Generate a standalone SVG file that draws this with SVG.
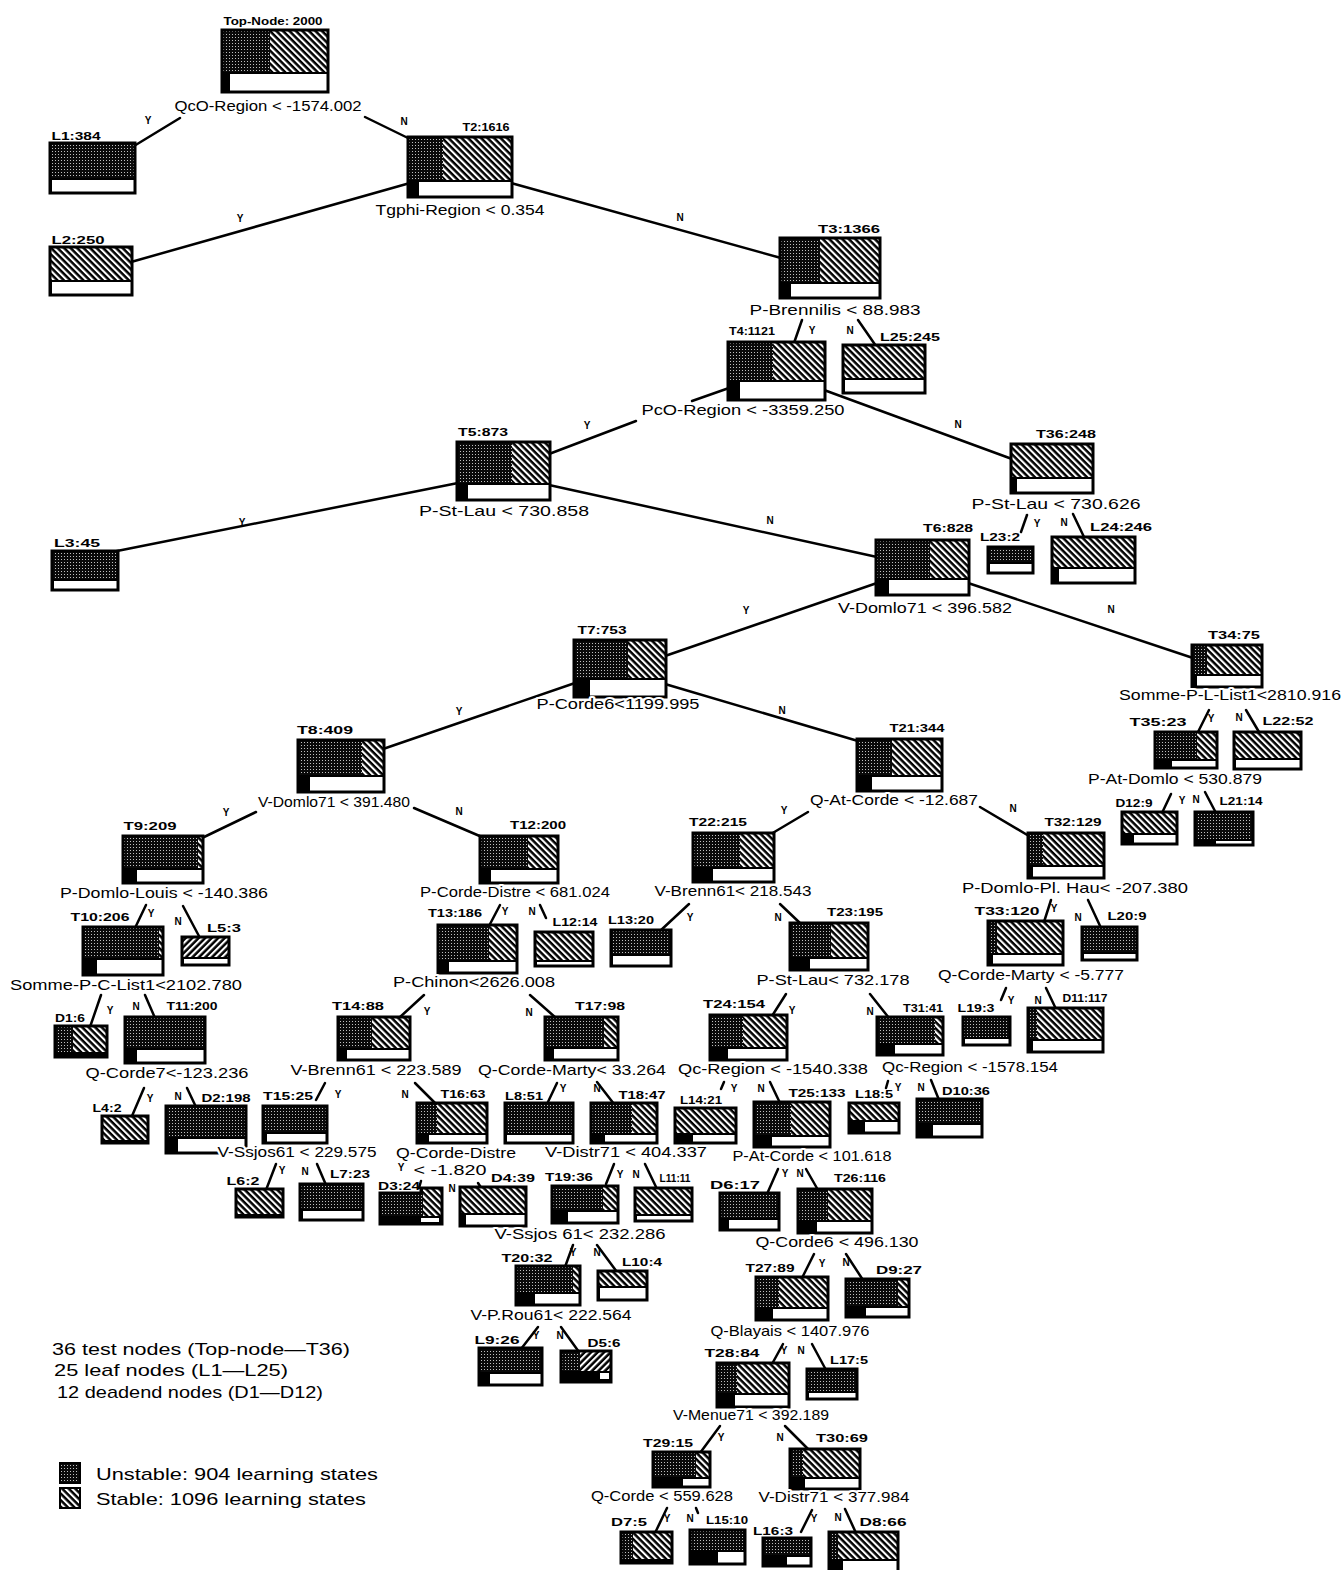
<svg xmlns="http://www.w3.org/2000/svg" width="1344" height="1570" viewBox="0 0 1344 1570">
<defs>
<pattern id="ps" width="3" height="3" patternUnits="userSpaceOnUse"><rect width="3" height="3" fill="#0a0a0a"/><rect x="1" y="1" width="1" height="1" fill="#c0c0c0"/></pattern>
<pattern id="ph" width="4.6" height="4.6" patternUnits="userSpaceOnUse" patternTransform="rotate(-45)"><rect width="4.6" height="4.6" fill="#000"/><rect width="2.1" height="4.6" fill="#fff"/></pattern>
<pattern id="ph2" width="4.6" height="4.6" patternUnits="userSpaceOnUse" patternTransform="rotate(45)"><rect width="4.6" height="4.6" fill="#000"/><rect width="2.1" height="4.6" fill="#fff"/></pattern>
</defs>
<style>
.b{fill:#000}
.s{fill:url(#ps)}
.h{fill:url(#ph)}
.h2{fill:url(#ph2)}
.w{fill:#fff}
.f{fill:none;stroke:#000;stroke-width:3}
.cn line{stroke:#000;stroke-width:2.5;stroke-linecap:round}
text{font-family:"Liberation Sans",Arial,sans-serif;fill:#000}
.c{font-size:15px;text-anchor:middle;paint-order:stroke;stroke:#fff;stroke-width:4px;stroke-linejoin:round}
.l{font-size:11.5px;font-weight:bold;text-anchor:middle}
.yn{font-size:10px;font-weight:bold;text-anchor:middle}
.lg{font-size:17px}
</style>
<rect width="1344" height="1570" fill="#fff"/>
<g id="connectors" class="cn">
<line x1="134" y1="146" x2="180" y2="118"/>
<line x1="365" y1="117" x2="410" y2="139"/>
<line x1="410" y1="183" x2="131" y2="262"/>
<line x1="511" y1="183" x2="781" y2="258"/>
<line x1="802" y1="320" x2="794" y2="343"/>
<line x1="858" y1="320" x2="876" y2="346"/>
<line x1="729" y1="388" x2="692" y2="401"/>
<line x1="636" y1="421" x2="549" y2="454"/>
<line x1="824" y1="390" x2="1012" y2="459"/>
<line x1="1027" y1="515" x2="1021" y2="532"/>
<line x1="1073" y1="514" x2="1084" y2="537"/>
<line x1="458" y1="483" x2="117" y2="551"/>
<line x1="549" y1="485" x2="877" y2="557"/>
<line x1="877" y1="583" x2="665" y2="656"/>
<line x1="968" y1="583" x2="1193" y2="658"/>
<line x1="1209" y1="710" x2="1198" y2="732"/>
<line x1="1246" y1="710" x2="1259" y2="732"/>
<line x1="1171" y1="794" x2="1162" y2="813"/>
<line x1="1205" y1="792" x2="1216" y2="813"/>
<line x1="575" y1="683" x2="383" y2="749"/>
<line x1="665" y1="684" x2="858" y2="741"/>
<line x1="256" y1="812" x2="202" y2="838"/>
<line x1="414" y1="808" x2="482" y2="837"/>
<line x1="146" y1="905" x2="135" y2="928"/>
<line x1="183" y1="906" x2="200" y2="938"/>
<line x1="101" y1="995" x2="90" y2="1027"/>
<line x1="145" y1="995" x2="155" y2="1018"/>
<line x1="144" y1="1088" x2="132" y2="1116"/>
<line x1="187" y1="1088" x2="196" y2="1107"/>
<line x1="325" y1="1083" x2="316" y2="1100"/>
<line x1="415" y1="1083" x2="436" y2="1104"/>
<line x1="276" y1="1164" x2="266" y2="1190"/>
<line x1="317" y1="1164" x2="326" y2="1185"/>
<line x1="500" y1="905" x2="489" y2="926"/>
<line x1="540" y1="905" x2="546" y2="918"/>
<line x1="424" y1="995" x2="399" y2="1018"/>
<line x1="530" y1="995" x2="556" y2="1018"/>
<line x1="421" y1="1181" x2="419" y2="1188"/>
<line x1="478" y1="1183" x2="484" y2="1192"/>
<line x1="557" y1="1083" x2="547" y2="1104"/>
<line x1="597" y1="1082" x2="614" y2="1104"/>
<line x1="614" y1="1164" x2="606" y2="1184"/>
<line x1="645" y1="1164" x2="657" y2="1189"/>
<line x1="573" y1="1245" x2="565" y2="1267"/>
<line x1="597" y1="1245" x2="617" y2="1272"/>
<line x1="538" y1="1327" x2="521" y2="1349"/>
<line x1="561" y1="1327" x2="579" y2="1352"/>
<line x1="808" y1="812" x2="771" y2="834"/>
<line x1="980" y1="807" x2="1029" y2="836"/>
<line x1="689" y1="904" x2="660" y2="931"/>
<line x1="780" y1="904" x2="801" y2="924"/>
<line x1="786" y1="994" x2="772" y2="1016"/>
<line x1="870" y1="994" x2="889" y2="1018"/>
<line x1="724" y1="1082" x2="721" y2="1089"/>
<line x1="770" y1="1082" x2="780" y2="1103"/>
<line x1="778" y1="1169" x2="767" y2="1194"/>
<line x1="806" y1="1169" x2="818" y2="1190"/>
<line x1="814" y1="1254" x2="802" y2="1278"/>
<line x1="846" y1="1254" x2="863" y2="1280"/>
<line x1="783" y1="1344" x2="772" y2="1364"/>
<line x1="812" y1="1344" x2="826" y2="1370"/>
<line x1="720" y1="1426" x2="700" y2="1453"/>
<line x1="785" y1="1426" x2="809" y2="1450"/>
<line x1="667" y1="1508" x2="655" y2="1533"/>
<line x1="696" y1="1508" x2="698" y2="1513"/>
<line x1="812" y1="1510" x2="801" y2="1532"/>
<line x1="845" y1="1509" x2="856" y2="1533"/>
<line x1="888" y1="1081" x2="886" y2="1088"/>
<line x1="931" y1="1080" x2="939" y2="1100"/>
<line x1="1051" y1="900" x2="1044" y2="922"/>
<line x1="1088" y1="900" x2="1101" y2="928"/>
<line x1="1006" y1="988" x2="1001" y2="1000"/>
<line x1="1046" y1="988" x2="1056" y2="1009"/>
<text class="yn" x="148" y="124">Y</text><text class="yn" x="404" y="125">N</text>
<text class="yn" x="240" y="222">Y</text><text class="yn" x="680" y="221">N</text>
<text class="yn" x="812" y="334">Y</text><text class="yn" x="850" y="334">N</text>
<text class="yn" x="587" y="429">Y</text><text class="yn" x="958" y="428">N</text>
<text class="yn" x="1037" y="527">Y</text><text class="yn" x="1064" y="526">N</text>
<text class="yn" x="242" y="526">Y</text><text class="yn" x="770" y="524">N</text>
<text class="yn" x="746" y="614">Y</text><text class="yn" x="1111" y="613">N</text>
<text class="yn" x="1211" y="722">Y</text><text class="yn" x="1239" y="721">N</text>
<text class="yn" x="1182" y="804">Y</text><text class="yn" x="1196" y="803">N</text>
<text class="yn" x="459" y="715">Y</text><text class="yn" x="782" y="714">N</text>
<text class="yn" x="226" y="816">Y</text><text class="yn" x="459" y="815">N</text>
<text class="yn" x="151" y="917">Y</text><text class="yn" x="178" y="925">N</text>
<text class="yn" x="110" y="1014">Y</text><text class="yn" x="136" y="1010">N</text>
<text class="yn" x="150" y="1102">Y</text><text class="yn" x="178" y="1100">N</text>
<text class="yn" x="338" y="1098">Y</text><text class="yn" x="405" y="1098">N</text>
<text class="yn" x="282" y="1174">Y</text><text class="yn" x="305" y="1175">N</text>
<text class="yn" x="505" y="915">Y</text><text class="yn" x="532" y="915">N</text>
<text class="yn" x="427" y="1015">Y</text><text class="yn" x="529" y="1016">N</text>
<text class="yn" x="401" y="1171">Y</text><text class="yn" x="452" y="1192">N</text>
<text class="yn" x="563" y="1092">Y</text><text class="yn" x="597" y="1092">N</text>
<text class="yn" x="620" y="1178">Y</text><text class="yn" x="636" y="1178">N</text>
<text class="yn" x="573" y="1256">Y</text><text class="yn" x="597" y="1256">N</text>
<text class="yn" x="536" y="1339">Y</text><text class="yn" x="560" y="1339">N</text>
<text class="yn" x="784" y="814">Y</text><text class="yn" x="1013" y="812">N</text>
<text class="yn" x="690" y="921">Y</text><text class="yn" x="778" y="921">N</text>
<text class="yn" x="792" y="1014">Y</text><text class="yn" x="870" y="1015">N</text>
<text class="yn" x="734" y="1092">Y</text><text class="yn" x="761" y="1092">N</text>
<text class="yn" x="785" y="1177">Y</text><text class="yn" x="800" y="1177">N</text>
<text class="yn" x="822" y="1267">Y</text><text class="yn" x="846" y="1266">N</text>
<text class="yn" x="784" y="1354">Y</text><text class="yn" x="801" y="1354">N</text>
<text class="yn" x="721" y="1441">Y</text><text class="yn" x="780" y="1441">N</text>
<text class="yn" x="667" y="1522">Y</text><text class="yn" x="690" y="1522">N</text>
<text class="yn" x="814" y="1522">Y</text><text class="yn" x="838" y="1521">N</text>
<text class="yn" x="898" y="1091">Y</text><text class="yn" x="921" y="1091">N</text>
<text class="yn" x="1054" y="912">Y</text><text class="yn" x="1078" y="921">N</text>
<text class="yn" x="1011" y="1004">Y</text><text class="yn" x="1038" y="1004">N</text>
</g>
<g id="TopNode"><rect class="b" x="222" y="30" width="106" height="62"/><rect class="s" x="222" y="30" width="48" height="42"/><rect class="h" x="270" y="30" width="58" height="42"/><rect class="w" x="230" y="74" width="98" height="18"/><rect class="f" x="222" y="30" width="106" height="62"/><text class="l" style="font-size:11px" x="273" y="25" textLength="99" lengthAdjust="spacingAndGlyphs">Top-Node: 2000</text><text class="c" x="268" y="111" textLength="187" lengthAdjust="spacingAndGlyphs">QcO-Region &lt; -1574.002</text></g>
<g id="L1"><rect class="b" x="50" y="143" width="85" height="50"/><rect class="s" x="50" y="143" width="85" height="35"/><rect class="w" x="52" y="180" width="83" height="13"/><rect class="f" x="50" y="143" width="85" height="50"/><text class="l" x="76" y="140" textLength="49" lengthAdjust="spacingAndGlyphs">L1:384</text></g>
<g id="T2"><rect class="b" x="408" y="137" width="104" height="60"/><rect class="s" x="408" y="137" width="35" height="43"/><rect class="h" x="443" y="137" width="69" height="43"/><rect class="w" x="419" y="182" width="93" height="15"/><rect class="f" x="408" y="137" width="104" height="60"/><text class="l" x="486" y="131" textLength="47" lengthAdjust="spacingAndGlyphs">T2:1616</text><text class="c" x="460" y="215" textLength="169" lengthAdjust="spacingAndGlyphs">Tgphi-Region &lt; 0.354</text></g>
<g id="L2"><rect class="b" x="50" y="247" width="82" height="48"/><rect class="h" x="50" y="247" width="82" height="33"/><rect class="w" x="52" y="282" width="80" height="13"/><rect class="f" x="50" y="247" width="82" height="48"/><text class="l" x="78" y="244" textLength="53" lengthAdjust="spacingAndGlyphs">L2:250</text></g>
<g id="T3"><rect class="b" x="780" y="238" width="100" height="60"/><rect class="s" x="780" y="238" width="40" height="44"/><rect class="h" x="820" y="238" width="60" height="44"/><rect class="w" x="791" y="284" width="89" height="14"/><rect class="f" x="780" y="238" width="100" height="60"/><text class="l" x="849" y="233" textLength="62" lengthAdjust="spacingAndGlyphs">T3:1366</text><text class="c" x="835" y="315" textLength="171" lengthAdjust="spacingAndGlyphs">P-Brennilis &lt; 88.983</text></g>
<g id="T4"><rect class="b" x="728" y="342" width="97" height="58"/><rect class="s" x="728" y="342" width="45" height="38"/><rect class="h" x="773" y="342" width="52" height="38"/><rect class="w" x="740" y="382" width="85" height="18"/><rect class="f" x="728" y="342" width="97" height="58"/><text class="l" x="752" y="335" textLength="46" lengthAdjust="spacingAndGlyphs">T4:1121</text><text class="c" x="743" y="415" textLength="203" lengthAdjust="spacingAndGlyphs">PcO-Region &lt; -3359.250</text></g>
<g id="L25"><rect class="b" x="843" y="345" width="82" height="48"/><rect class="h" x="843" y="345" width="82" height="33"/><rect class="w" x="845" y="380" width="80" height="13"/><rect class="f" x="843" y="345" width="82" height="48"/><text class="l" x="910" y="341" textLength="60" lengthAdjust="spacingAndGlyphs">L25:245</text></g>
<g id="T36"><rect class="b" x="1011" y="444" width="82" height="49"/><rect class="h" x="1011" y="444" width="82" height="33"/><rect class="w" x="1017" y="479" width="76" height="14"/><rect class="f" x="1011" y="444" width="82" height="49"/><text class="l" x="1066" y="438" textLength="60" lengthAdjust="spacingAndGlyphs">T36:248</text><text class="c" x="1056" y="509" textLength="169" lengthAdjust="spacingAndGlyphs">P-St-Lau &lt; 730.626</text></g>
<g id="L23"><rect class="b" x="988" y="547" width="45" height="26"/><rect class="s" x="988" y="547" width="45" height="15"/><rect class="w" x="990" y="564" width="43" height="9"/><rect class="f" x="988" y="547" width="45" height="26"/><text class="l" x="1000" y="541" textLength="40" lengthAdjust="spacingAndGlyphs">L23:2</text></g>
<g id="L24"><rect class="b" x="1052" y="537" width="83" height="46"/><rect class="h" x="1052" y="537" width="83" height="30"/><rect class="w" x="1059" y="569" width="76" height="14"/><rect class="f" x="1052" y="537" width="83" height="46"/><text class="l" x="1121" y="531" textLength="62" lengthAdjust="spacingAndGlyphs">L24:246</text></g>
<g id="T5"><rect class="b" x="457" y="442" width="93" height="58"/><rect class="s" x="457" y="442" width="55" height="41"/><rect class="h" x="512" y="442" width="38" height="41"/><rect class="w" x="468" y="485" width="82" height="15"/><rect class="f" x="457" y="442" width="93" height="58"/><text class="l" x="483" y="436" textLength="50" lengthAdjust="spacingAndGlyphs">T5:873</text><text class="c" x="504" y="516" textLength="170" lengthAdjust="spacingAndGlyphs">P-St-Lau &lt; 730.858</text></g>
<g id="L3"><rect class="b" x="52" y="551" width="66" height="39"/><rect class="s" x="52" y="551" width="66" height="28"/><rect class="w" x="54" y="581" width="64" height="9"/><rect class="f" x="52" y="551" width="66" height="39"/><text class="l" x="77" y="547" textLength="46" lengthAdjust="spacingAndGlyphs">L3:45</text></g>
<g id="T6"><rect class="b" x="876" y="540" width="93" height="55"/><rect class="s" x="876" y="540" width="54" height="38"/><rect class="h" x="930" y="540" width="39" height="38"/><rect class="w" x="889" y="580" width="80" height="15"/><rect class="f" x="876" y="540" width="93" height="55"/><text class="l" x="948" y="532" textLength="50" lengthAdjust="spacingAndGlyphs">T6:828</text><text class="c" x="925" y="613" textLength="174" lengthAdjust="spacingAndGlyphs">V-Domlo71 &lt; 396.582</text></g>
<g id="T34"><rect class="b" x="1192" y="645" width="70" height="42"/><rect class="s" x="1192" y="645" width="15" height="29"/><rect class="h" x="1207" y="645" width="55" height="29"/><rect class="w" x="1197" y="676" width="65" height="11"/><rect class="f" x="1192" y="645" width="70" height="42"/><text class="l" x="1234" y="639" textLength="52" lengthAdjust="spacingAndGlyphs">T34:75</text><text class="c" x="1230" y="700" textLength="222" lengthAdjust="spacingAndGlyphs">Somme-P-L-List1&lt;2810.916</text></g>
<g id="T35"><rect class="b" x="1155" y="732" width="62" height="36"/><rect class="s" x="1155" y="732" width="42" height="27"/><rect class="h" x="1197" y="732" width="20" height="27"/><rect class="w" x="1172" y="761" width="45" height="7"/><rect class="f" x="1155" y="732" width="62" height="36"/><text class="l" x="1158" y="726" textLength="57" lengthAdjust="spacingAndGlyphs">T35:23</text><text class="c" x="1175" y="784" textLength="174" lengthAdjust="spacingAndGlyphs">P-At-Domlo &lt; 530.879</text></g>
<g id="L22"><rect class="b" x="1234" y="732" width="67" height="37"/><rect class="h" x="1234" y="732" width="67" height="26"/><rect class="w" x="1236" y="760" width="65" height="9"/><rect class="f" x="1234" y="732" width="67" height="37"/><text class="l" x="1288" y="725" textLength="51" lengthAdjust="spacingAndGlyphs">L22:52</text></g>
<g id="D12"><rect class="b" x="1122" y="812" width="55" height="32"/><rect class="h" x="1122" y="812" width="55" height="21"/><rect class="w" x="1134" y="835" width="43" height="9"/><rect class="f" x="1122" y="812" width="55" height="32"/><text class="l" x="1134" y="807" textLength="37" lengthAdjust="spacingAndGlyphs">D12:9</text></g>
<g id="L21"><rect class="b" x="1195" y="812" width="58" height="33"/><rect class="s" x="1195" y="812" width="58" height="27"/><rect class="w" x="1216" y="841" width="37" height="4"/><rect class="f" x="1195" y="812" width="58" height="33"/><text class="l" x="1241" y="805" textLength="43" lengthAdjust="spacingAndGlyphs">L21:14</text></g>
<g id="T7"><rect class="b" x="574" y="640" width="92" height="57"/><rect class="s" x="574" y="640" width="54" height="38"/><rect class="h" x="628" y="640" width="38" height="38"/><rect class="w" x="590" y="680" width="76" height="17"/><rect class="f" x="574" y="640" width="92" height="57"/><text class="l" x="602" y="634" textLength="49" lengthAdjust="spacingAndGlyphs">T7:753</text><text class="c" x="618" y="709" textLength="163" lengthAdjust="spacingAndGlyphs">P-Corde6&lt;1199.995</text></g>
<g id="T8"><rect class="b" x="298" y="740" width="86" height="52"/><rect class="s" x="298" y="740" width="64" height="35"/><rect class="h" x="362" y="740" width="22" height="35"/><rect class="w" x="310" y="777" width="74" height="15"/><rect class="f" x="298" y="740" width="86" height="52"/><text class="l" x="325" y="734" textLength="56" lengthAdjust="spacingAndGlyphs">T8:409</text><text class="c" x="334" y="807" textLength="152" lengthAdjust="spacingAndGlyphs">V-Domlo71 &lt; 391.480</text></g>
<g id="T9"><rect class="b" x="123" y="836" width="80" height="47"/><rect class="s" x="123" y="836" width="75" height="32"/><rect class="h" x="198" y="836" width="5" height="32"/><rect class="w" x="137" y="870" width="66" height="13"/><rect class="f" x="123" y="836" width="80" height="47"/><text class="l" x="150" y="830" textLength="53" lengthAdjust="spacingAndGlyphs">T9:209</text><text class="c" x="164" y="898" textLength="208" lengthAdjust="spacingAndGlyphs">P-Domlo-Louis &lt; -140.386</text></g>
<g id="T10"><rect class="b" x="83" y="927" width="80" height="48"/><rect class="s" x="83" y="927" width="76" height="31"/><rect class="h" x="159" y="927" width="4" height="31"/><rect class="w" x="97" y="960" width="66" height="15"/><rect class="f" x="83" y="927" width="80" height="48"/><text class="l" x="100" y="921" textLength="59" lengthAdjust="spacingAndGlyphs">T10:206</text><text class="c" x="126" y="990" textLength="232" lengthAdjust="spacingAndGlyphs">Somme-P-C-List1&lt;2102.780</text></g>
<g id="L5"><rect class="b" x="182" y="937" width="47" height="28"/><rect class="h2" x="182" y="937" width="47" height="20"/><rect class="w" x="184" y="959" width="45" height="6"/><rect class="f" x="182" y="937" width="47" height="28"/><text class="l" x="224" y="932" textLength="34" lengthAdjust="spacingAndGlyphs">L5:3</text></g>
<g id="D1"><rect class="b" x="55" y="1026" width="52" height="31"/><rect class="s" x="55" y="1026" width="18" height="26"/><rect class="h" x="73" y="1026" width="34" height="26"/><rect class="f" x="55" y="1026" width="52" height="31"/><text class="l" x="70" y="1022" textLength="30" lengthAdjust="spacingAndGlyphs">D1:6</text></g>
<g id="T11"><rect class="b" x="125" y="1017" width="80" height="46"/><rect class="s" x="125" y="1017" width="80" height="31"/><rect class="w" x="137" y="1050" width="68" height="13"/><rect class="f" x="125" y="1017" width="80" height="46"/><text class="l" x="192" y="1010" textLength="51" lengthAdjust="spacingAndGlyphs">T11:200</text><text class="c" x="167" y="1078" textLength="163" lengthAdjust="spacingAndGlyphs">Q-Corde7&lt;-123.236</text></g>
<g id="L4"><rect class="b" x="102" y="1116" width="46" height="27"/><rect class="h" x="102" y="1116" width="46" height="24"/><rect class="f" x="102" y="1116" width="46" height="27"/><text class="l" x="107" y="1112" textLength="29" lengthAdjust="spacingAndGlyphs">L4:2</text></g>
<g id="D2"><rect class="b" x="166" y="1106" width="80" height="47"/><rect class="s" x="166" y="1106" width="80" height="31"/><rect class="w" x="178" y="1139" width="68" height="14"/><rect class="f" x="166" y="1106" width="80" height="47"/><text class="l" x="226" y="1102" textLength="49" lengthAdjust="spacingAndGlyphs">D2:198</text></g>
<g id="T15"><rect class="b" x="263" y="1106" width="64" height="37"/><rect class="s" x="263" y="1106" width="64" height="26"/><rect class="w" x="267" y="1134" width="60" height="9"/><rect class="f" x="263" y="1106" width="64" height="37"/><text class="l" x="288" y="1100" textLength="50" lengthAdjust="spacingAndGlyphs">T15:25</text><text class="c" x="297" y="1157" textLength="159" lengthAdjust="spacingAndGlyphs">V-Ssjos61 &lt; 229.575</text></g>
<g id="L6"><rect class="b" x="236" y="1189" width="47" height="28"/><rect class="h" x="236" y="1189" width="47" height="25"/><rect class="f" x="236" y="1189" width="47" height="28"/><text class="l" x="243" y="1185" textLength="33" lengthAdjust="spacingAndGlyphs">L6:2</text></g>
<g id="L7"><rect class="b" x="300" y="1184" width="63" height="36"/><rect class="s" x="300" y="1184" width="63" height="25"/><rect class="w" x="303" y="1211" width="60" height="9"/><rect class="f" x="300" y="1184" width="63" height="36"/><text class="l" x="350" y="1178" textLength="40" lengthAdjust="spacingAndGlyphs">L7:23</text></g>
<g id="T12"><rect class="b" x="480" y="836" width="78" height="47"/><rect class="s" x="480" y="836" width="48" height="32"/><rect class="h" x="528" y="836" width="30" height="32"/><rect class="w" x="491" y="870" width="67" height="13"/><rect class="f" x="480" y="836" width="78" height="47"/><text class="l" x="538" y="829" textLength="56" lengthAdjust="spacingAndGlyphs">T12:200</text><text class="c" x="515" y="897" textLength="190" lengthAdjust="spacingAndGlyphs">P-Corde-Distre &lt; 681.024</text></g>
<g id="T13"><rect class="b" x="438" y="925" width="79" height="48"/><rect class="s" x="438" y="925" width="51" height="35"/><rect class="h" x="489" y="925" width="28" height="35"/><rect class="w" x="449" y="962" width="68" height="11"/><rect class="f" x="438" y="925" width="79" height="48"/><text class="l" x="455" y="917" textLength="54" lengthAdjust="spacingAndGlyphs">T13:186</text><text class="c" x="474" y="987" textLength="162" lengthAdjust="spacingAndGlyphs">P-Chinon&lt;2626.008</text></g>
<g id="L12"><rect class="b" x="535" y="932" width="58" height="34"/><rect class="h" x="535" y="932" width="58" height="28"/><rect class="w" x="537" y="962" width="56" height="4"/><rect class="f" x="535" y="932" width="58" height="34"/><text class="l" x="575" y="926" textLength="45" lengthAdjust="spacingAndGlyphs">L12:14</text></g>
<g id="T14"><rect class="b" x="338" y="1017" width="72" height="43"/><rect class="s" x="338" y="1017" width="34" height="31"/><rect class="h" x="372" y="1017" width="38" height="31"/><rect class="w" x="347" y="1050" width="63" height="10"/><rect class="f" x="338" y="1017" width="72" height="43"/><text class="l" x="358" y="1010" textLength="52" lengthAdjust="spacingAndGlyphs">T14:88</text><text class="c" x="376" y="1075" textLength="171" lengthAdjust="spacingAndGlyphs">V-Brenn61 &lt; 223.589</text></g>
<g id="T17"><rect class="b" x="545" y="1017" width="73" height="43"/><rect class="s" x="545" y="1017" width="59" height="30"/><rect class="h" x="604" y="1017" width="14" height="30"/><rect class="w" x="554" y="1049" width="64" height="11"/><rect class="f" x="545" y="1017" width="73" height="43"/><text class="l" x="600" y="1010" textLength="50" lengthAdjust="spacingAndGlyphs">T17:98</text><text class="c" x="572" y="1075" textLength="188" lengthAdjust="spacingAndGlyphs">Q-Corde-Marty&lt; 33.264</text></g>
<g id="T16"><rect class="b" x="417" y="1103" width="70" height="40"/><rect class="s" x="417" y="1103" width="20" height="30"/><rect class="h" x="437" y="1103" width="50" height="30"/><rect class="w" x="429" y="1135" width="58" height="8"/><rect class="f" x="417" y="1103" width="70" height="40"/><text class="l" x="463" y="1098" textLength="45" lengthAdjust="spacingAndGlyphs">T16:63</text><text class="c" x="456" y="1158" textLength="120" lengthAdjust="spacingAndGlyphs">Q-Corde-Distre</text><text class="c" x="450" y="1175" textLength="73" lengthAdjust="spacingAndGlyphs">&lt; -1.820</text></g>
<g id="D3"><path class="b" d="M380,1193H421V1188H442V1224H380Z"/><rect class="s" x="380" y="1193" width="43" height="23"/><rect class="h" x="423" y="1188" width="19" height="28"/><rect class="w" x="421" y="1218" width="18" height="4"/><path class="f" d="M380,1193H421V1188H442V1224H380Z"/><text class="l" x="399" y="1190" textLength="42" lengthAdjust="spacingAndGlyphs">D3:24</text></g>
<g id="D4"><rect class="b" x="460" y="1187" width="66" height="39"/><rect class="h" x="460" y="1187" width="66" height="26"/><rect class="w" x="466" y="1215" width="60" height="11"/><rect class="f" x="460" y="1187" width="66" height="39"/><text class="l" x="513" y="1182" textLength="44" lengthAdjust="spacingAndGlyphs">D4:39</text></g>
<g id="L8"><rect class="b" x="505" y="1103" width="68" height="40"/><rect class="s" x="505" y="1103" width="68" height="30"/><rect class="w" x="507" y="1135" width="66" height="8"/><rect class="f" x="505" y="1103" width="68" height="40"/><text class="l" x="524" y="1100" textLength="38" lengthAdjust="spacingAndGlyphs">L8:51</text></g>
<g id="T18"><rect class="b" x="591" y="1103" width="66" height="40"/><rect class="s" x="591" y="1103" width="41" height="30"/><rect class="h" x="632" y="1103" width="25" height="30"/><rect class="w" x="605" y="1135" width="52" height="8"/><rect class="f" x="591" y="1103" width="66" height="40"/><text class="l" x="642" y="1099" textLength="47" lengthAdjust="spacingAndGlyphs">T18:47</text><text class="c" x="626" y="1157" textLength="162" lengthAdjust="spacingAndGlyphs">V-Distr71 &lt; 404.337</text></g>
<g id="T19"><rect class="b" x="552" y="1186" width="66" height="37"/><rect class="s" x="552" y="1186" width="51" height="24"/><rect class="h" x="603" y="1186" width="15" height="24"/><rect class="w" x="568" y="1212" width="50" height="11"/><rect class="f" x="552" y="1186" width="66" height="37"/><text class="l" x="569" y="1181" textLength="48" lengthAdjust="spacingAndGlyphs">T19:36</text><text class="c" x="580" y="1239" textLength="171" lengthAdjust="spacingAndGlyphs">V-Ssjos 61&lt; 232.286</text></g>
<g id="L11"><rect class="b" x="635" y="1188" width="57" height="33"/><rect class="h" x="635" y="1188" width="57" height="26"/><rect class="w" x="637" y="1216" width="55" height="5"/><rect class="f" x="635" y="1188" width="57" height="33"/><text class="l" x="675" y="1182" textLength="31" lengthAdjust="spacingAndGlyphs">L11:11</text></g>
<g id="T20"><rect class="b" x="516" y="1266" width="64" height="39"/><rect class="s" x="516" y="1266" width="57" height="26"/><rect class="h" x="573" y="1266" width="7" height="26"/><rect class="w" x="535" y="1294" width="45" height="11"/><rect class="f" x="516" y="1266" width="64" height="39"/><text class="l" x="527" y="1262" textLength="51" lengthAdjust="spacingAndGlyphs">T20:32</text><text class="c" x="551" y="1320" textLength="161" lengthAdjust="spacingAndGlyphs">V-P.Rou61&lt; 222.564</text></g>
<g id="L10"><rect class="b" x="598" y="1271" width="49" height="29"/><rect class="h" x="598" y="1271" width="49" height="15"/><rect class="w" x="600" y="1288" width="47" height="12"/><rect class="f" x="598" y="1271" width="49" height="29"/><text class="l" x="642" y="1266" textLength="40" lengthAdjust="spacingAndGlyphs">L10:4</text></g>
<g id="L9"><rect class="b" x="479" y="1348" width="63" height="37"/><rect class="s" x="479" y="1348" width="63" height="24"/><rect class="w" x="490" y="1374" width="52" height="11"/><rect class="f" x="479" y="1348" width="63" height="37"/><text class="l" x="497" y="1344" textLength="45" lengthAdjust="spacingAndGlyphs">L9:26</text></g>
<g id="D5"><rect class="b" x="561" y="1351" width="50" height="31"/><rect class="s" x="561" y="1351" width="19" height="20"/><rect class="h2" x="580" y="1351" width="31" height="20"/><rect class="w" x="600" y="1373" width="9" height="6"/><rect class="f" x="561" y="1351" width="50" height="31"/><text class="l" x="604" y="1347" textLength="33" lengthAdjust="spacingAndGlyphs">D5:6</text></g>
<g id="T21"><rect class="b" x="857" y="739" width="85" height="52"/><rect class="s" x="857" y="739" width="35" height="36"/><rect class="h" x="892" y="739" width="50" height="36"/><rect class="w" x="872" y="777" width="70" height="14"/><rect class="f" x="857" y="739" width="85" height="52"/><text class="l" x="917" y="732" textLength="55" lengthAdjust="spacingAndGlyphs">T21:344</text><text class="c" x="894" y="805" textLength="168" lengthAdjust="spacingAndGlyphs">Q-At-Corde &lt; -12.687</text></g>
<g id="T22"><rect class="b" x="693" y="833" width="81" height="49"/><rect class="s" x="693" y="833" width="47" height="34"/><rect class="h" x="740" y="833" width="34" height="34"/><rect class="w" x="713" y="869" width="61" height="13"/><rect class="f" x="693" y="833" width="81" height="49"/><text class="l" x="718" y="826" textLength="58" lengthAdjust="spacingAndGlyphs">T22:215</text><text class="c" x="733" y="896" textLength="157" lengthAdjust="spacingAndGlyphs">V-Brenn61&lt; 218.543</text></g>
<g id="L13"><rect class="b" x="611" y="930" width="60" height="36"/><rect class="s" x="611" y="930" width="60" height="24"/><rect class="w" x="613" y="956" width="58" height="10"/><rect class="f" x="611" y="930" width="60" height="36"/><text class="l" x="631" y="924" textLength="46" lengthAdjust="spacingAndGlyphs">L13:20</text></g>
<g id="T23"><rect class="b" x="790" y="923" width="78" height="47"/><rect class="s" x="790" y="923" width="41" height="34"/><rect class="h" x="831" y="923" width="37" height="34"/><rect class="w" x="810" y="959" width="58" height="11"/><rect class="f" x="790" y="923" width="78" height="47"/><text class="l" x="855" y="916" textLength="56" lengthAdjust="spacingAndGlyphs">T23:195</text><text class="c" x="833" y="985" textLength="153" lengthAdjust="spacingAndGlyphs">P-St-Lau&lt; 732.178</text></g>
<g id="T24"><rect class="b" x="710" y="1015" width="77" height="45"/><rect class="s" x="710" y="1015" width="33" height="32"/><rect class="h" x="743" y="1015" width="44" height="32"/><rect class="w" x="728" y="1049" width="59" height="11"/><rect class="f" x="710" y="1015" width="77" height="45"/><text class="l" x="734" y="1008" textLength="62" lengthAdjust="spacingAndGlyphs">T24:154</text><text class="c" x="773" y="1074" textLength="190" lengthAdjust="spacingAndGlyphs">Qc-Region &lt; -1540.338</text></g>
<g id="T31"><rect class="b" x="877" y="1017" width="66" height="38"/><rect class="s" x="877" y="1017" width="58" height="26"/><rect class="h" x="935" y="1017" width="8" height="26"/><rect class="w" x="895" y="1045" width="48" height="10"/><rect class="f" x="877" y="1017" width="66" height="38"/><text class="l" x="923" y="1012" textLength="40" lengthAdjust="spacingAndGlyphs">T31:41</text><text class="c" x="970" y="1072" textLength="176" lengthAdjust="spacingAndGlyphs">Qc-Region &lt; -1578.154</text></g>
<g id="L14"><rect class="b" x="675" y="1108" width="61" height="35"/><rect class="h" x="675" y="1108" width="61" height="25"/><rect class="w" x="693" y="1135" width="43" height="8"/><rect class="f" x="675" y="1108" width="61" height="35"/><text class="l" x="701" y="1104" textLength="42" lengthAdjust="spacingAndGlyphs">L14:21</text></g>
<g id="T25"><rect class="b" x="754" y="1102" width="76" height="45"/><rect class="s" x="754" y="1102" width="37" height="33"/><rect class="h" x="791" y="1102" width="39" height="33"/><rect class="w" x="772" y="1137" width="58" height="10"/><rect class="f" x="754" y="1102" width="76" height="45"/><text class="l" x="817" y="1097" textLength="57" lengthAdjust="spacingAndGlyphs">T25:133</text><text class="c" x="812" y="1161" textLength="159" lengthAdjust="spacingAndGlyphs">P-At-Corde &lt; 101.618</text></g>
<g id="L18"><rect class="b" x="849" y="1103" width="50" height="30"/><rect class="h" x="849" y="1103" width="50" height="17"/><rect class="w" x="865" y="1122" width="34" height="11"/><rect class="f" x="849" y="1103" width="50" height="30"/><text class="l" x="874" y="1098" textLength="38" lengthAdjust="spacingAndGlyphs">L18:5</text></g>
<g id="D10"><rect class="b" x="917" y="1099" width="65" height="38"/><rect class="s" x="917" y="1099" width="65" height="24"/><rect class="w" x="933" y="1125" width="49" height="12"/><rect class="f" x="917" y="1099" width="65" height="38"/><text class="l" x="966" y="1095" textLength="48" lengthAdjust="spacingAndGlyphs">D10:36</text></g>
<g id="D6"><rect class="b" x="720" y="1193" width="59" height="37"/><rect class="s" x="720" y="1193" width="59" height="25"/><rect class="w" x="729" y="1220" width="50" height="10"/><rect class="f" x="720" y="1193" width="59" height="37"/><text class="l" x="735" y="1189" textLength="50" lengthAdjust="spacingAndGlyphs">D6:17</text></g>
<g id="T26"><rect class="b" x="798" y="1189" width="74" height="44"/><rect class="s" x="798" y="1189" width="30" height="31"/><rect class="h" x="828" y="1189" width="44" height="31"/><rect class="w" x="817" y="1222" width="55" height="11"/><rect class="f" x="798" y="1189" width="74" height="44"/><text class="l" x="860" y="1182" textLength="52" lengthAdjust="spacingAndGlyphs">T26:116</text><text class="c" x="837" y="1247" textLength="163" lengthAdjust="spacingAndGlyphs">Q-Corde6 &lt; 496.130</text></g>
<g id="T27"><rect class="b" x="756" y="1277" width="72" height="43"/><rect class="s" x="756" y="1277" width="23" height="30"/><rect class="h" x="779" y="1277" width="49" height="30"/><rect class="w" x="773" y="1309" width="55" height="11"/><rect class="f" x="756" y="1277" width="72" height="43"/><text class="l" x="770" y="1272" textLength="49" lengthAdjust="spacingAndGlyphs">T27:89</text><text class="c" x="790" y="1336" textLength="159" lengthAdjust="spacingAndGlyphs">Q-Blayais &lt; 1407.976</text></g>
<g id="D9"><rect class="b" x="846" y="1279" width="63" height="38"/><rect class="s" x="846" y="1279" width="52" height="27"/><rect class="h" x="898" y="1279" width="11" height="27"/><rect class="w" x="866" y="1308" width="43" height="9"/><rect class="f" x="846" y="1279" width="63" height="38"/><text class="l" x="899" y="1274" textLength="46" lengthAdjust="spacingAndGlyphs">D9:27</text></g>
<g id="T28"><rect class="b" x="717" y="1363" width="72" height="44"/><rect class="s" x="717" y="1363" width="20" height="30"/><rect class="h" x="737" y="1363" width="52" height="30"/><rect class="w" x="735" y="1395" width="54" height="12"/><rect class="f" x="717" y="1363" width="72" height="44"/><text class="l" x="732" y="1357" textLength="55" lengthAdjust="spacingAndGlyphs">T28:84</text><text class="c" x="751" y="1420" textLength="156" lengthAdjust="spacingAndGlyphs">V-Menue71 &lt; 392.189</text></g>
<g id="L17"><rect class="b" x="807" y="1369" width="50" height="30"/><rect class="s" x="807" y="1369" width="50" height="22"/><rect class="w" x="809" y="1393" width="48" height="6"/><rect class="f" x="807" y="1369" width="50" height="30"/><text class="l" x="849" y="1364" textLength="38" lengthAdjust="spacingAndGlyphs">L17:5</text></g>
<g id="T29"><rect class="b" x="653" y="1452" width="57" height="35"/><rect class="s" x="653" y="1452" width="43" height="25"/><rect class="h" x="696" y="1452" width="14" height="25"/><rect class="w" x="683" y="1479" width="27" height="8"/><rect class="f" x="653" y="1452" width="57" height="35"/><text class="l" x="668" y="1447" textLength="50" lengthAdjust="spacingAndGlyphs">T29:15</text><text class="c" x="662" y="1501" textLength="142" lengthAdjust="spacingAndGlyphs">Q-Corde &lt; 559.628</text></g>
<g id="T30"><rect class="b" x="790" y="1449" width="70" height="40"/><rect class="s" x="790" y="1449" width="13" height="28"/><rect class="h" x="803" y="1449" width="57" height="28"/><rect class="w" x="805" y="1479" width="55" height="10"/><rect class="f" x="790" y="1449" width="70" height="40"/><text class="l" x="842" y="1442" textLength="52" lengthAdjust="spacingAndGlyphs">T30:69</text><text class="c" x="834" y="1502" textLength="151" lengthAdjust="spacingAndGlyphs">V-Distr71 &lt; 377.984</text></g>
<g id="D7"><rect class="b" x="621" y="1532" width="51" height="31"/><rect class="s" x="621" y="1532" width="12" height="27"/><rect class="h" x="633" y="1532" width="39" height="27"/><rect class="f" x="621" y="1532" width="51" height="31"/><text class="l" x="629" y="1526" textLength="36" lengthAdjust="spacingAndGlyphs">D7:5</text></g>
<g id="L15"><rect class="b" x="690" y="1530" width="55" height="34"/><rect class="s" x="690" y="1530" width="55" height="20"/><rect class="w" x="718" y="1552" width="27" height="12"/><rect class="f" x="690" y="1530" width="55" height="34"/><text class="l" x="727" y="1524" textLength="42" lengthAdjust="spacingAndGlyphs">L15:10</text></g>
<g id="L16"><rect class="b" x="763" y="1538" width="48" height="28"/><rect class="s" x="763" y="1538" width="48" height="17"/><rect class="w" x="787" y="1557" width="24" height="9"/><rect class="f" x="763" y="1538" width="48" height="28"/><text class="l" x="773" y="1535" textLength="40" lengthAdjust="spacingAndGlyphs">L16:3</text></g>
<g id="D8"><rect class="b" x="829" y="1532" width="69" height="44"/><rect class="s" x="829" y="1532" width="9" height="27"/><rect class="h" x="838" y="1532" width="60" height="27"/><rect class="w" x="843" y="1561" width="55" height="15"/><rect class="f" x="829" y="1532" width="69" height="44"/><text class="l" x="883" y="1526" textLength="47" lengthAdjust="spacingAndGlyphs">D8:66</text></g>
<g id="T32"><rect class="b" x="1028" y="833" width="76" height="45"/><rect class="s" x="1028" y="833" width="15" height="32"/><rect class="h" x="1043" y="833" width="61" height="32"/><rect class="w" x="1033" y="867" width="71" height="11"/><rect class="f" x="1028" y="833" width="76" height="45"/><text class="l" x="1073" y="826" textLength="57" lengthAdjust="spacingAndGlyphs">T32:129</text><text class="c" x="1075" y="893" textLength="226" lengthAdjust="spacingAndGlyphs">P-Domlo-Pl. Hau&lt; -207.380</text></g>
<g id="T33"><rect class="b" x="988" y="921" width="75" height="44"/><rect class="s" x="988" y="921" width="9" height="32"/><rect class="h" x="997" y="921" width="66" height="32"/><rect class="w" x="993" y="955" width="70" height="10"/><rect class="f" x="988" y="921" width="75" height="44"/><text class="l" x="1007" y="915" textLength="65" lengthAdjust="spacingAndGlyphs">T33:120</text><text class="c" x="1031" y="980" textLength="186" lengthAdjust="spacingAndGlyphs">Q-Corde-Marty &lt; -5.777</text></g>
<g id="L20"><rect class="b" x="1082" y="927" width="55" height="33"/><rect class="s" x="1082" y="927" width="55" height="25"/><rect class="w" x="1084" y="954" width="53" height="6"/><rect class="f" x="1082" y="927" width="55" height="33"/><text class="l" x="1127" y="920" textLength="39" lengthAdjust="spacingAndGlyphs">L20:9</text></g>
<g id="L19"><rect class="b" x="963" y="1017" width="47" height="28"/><rect class="s" x="963" y="1017" width="47" height="20"/><rect class="w" x="965" y="1039" width="45" height="6"/><rect class="f" x="963" y="1017" width="47" height="28"/><text class="l" x="976" y="1012" textLength="37" lengthAdjust="spacingAndGlyphs">L19:3</text></g>
<g id="D11"><rect class="b" x="1028" y="1008" width="75" height="44"/><rect class="s" x="1028" y="1008" width="9" height="31"/><rect class="h" x="1037" y="1008" width="66" height="31"/><rect class="w" x="1033" y="1041" width="70" height="11"/><rect class="f" x="1028" y="1008" width="75" height="44"/><text class="l" x="1085" y="1002" textLength="45" lengthAdjust="spacingAndGlyphs">D11:117</text></g>
<g id="legend">
<text class="lg" x="52" y="1355" textLength="298" lengthAdjust="spacingAndGlyphs">36 test nodes (Top-node—T36)</text>
<text class="lg" x="54" y="1376" textLength="234" lengthAdjust="spacingAndGlyphs">25 leaf nodes (L1—L25)</text>
<text class="lg" x="57" y="1398" textLength="266" lengthAdjust="spacingAndGlyphs">12 deadend nodes (D1—D12)</text>
<rect class="s" x="60" y="1463" width="20" height="20"/><rect class="f" x="60" y="1463" width="20" height="20" style="stroke-width:2"/>
<rect class="h" x="60" y="1488" width="20" height="20"/><rect class="f" x="60" y="1488" width="20" height="20" style="stroke-width:2"/>
<text class="lg" x="96" y="1480" textLength="282" lengthAdjust="spacingAndGlyphs">Unstable: 904 learning states</text>
<text class="lg" x="96" y="1505" textLength="270" lengthAdjust="spacingAndGlyphs">Stable: 1096 learning states</text>
</g>
</svg>
